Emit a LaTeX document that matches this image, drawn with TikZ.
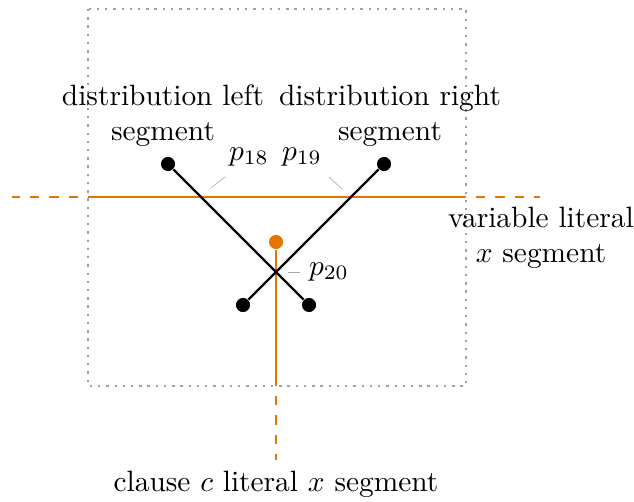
\documentclass[tikz,border=0pt]{standalone}
\usepackage{tikz}
\usetikzlibrary{positioning}

\definecolor{litorange}{RGB}{228,118,0}

\begin{document}
\begin{tikzpicture}[
	x=0.34pt,
	y=-0.34pt,
	dot/.style={circle, fill=#1, inner sep=0pt, minimum size=4.8pt},
	seg/.style={thick, draw=#1},
	ext/.style={thick, draw=litorange, dash pattern=on 3.2pt off 3.4pt, dash phase=3.2pt},
	frame/.style={thick, draw=gray!75, dotted},
	tick/.style={draw=gray!70, very thin},
	capt/.style={align=center, inner sep=0pt}
]

\useasboundingbox (0,0) rectangle (634,501);

% gadget box
\draw[frame] (88,9) rectangle (466,386);

% literal segments
\coordinate (hl) at (12,197);
\coordinate (hbl) at (88,197);
\coordinate (hbr) at (466,197);
\coordinate (hr) at (540,197);
\coordinate (vb) at (276,386);
\coordinate (ve) at (276,460);

\draw[ext] (hbl) -- (hl);
\draw[seg=litorange] (hbl) -- (hbr);
\draw[ext] (hbr) -- (hr);

\node[dot=litorange] (cl) at (276,242) {};
\draw[seg=litorange] (cl) -- (vb);
\draw[ext] (vb) -- (ve);

% distribution segments
\node[dot=black] (la) at (168,164) {};
\node[dot=black] (lb) at (309,305) {};
\node[dot=black] (ra) at (384,164) {};
\node[dot=black] (rb) at (243,305) {};

\draw[seg=black] (la) -- (lb);
\draw[seg=black] (ra) -- (rb);

% point labels
\node (p18) at (249,157) {$p_{18}$};
\node (p19) at (302,157) {$p_{19}$};
\node (p20) at (329,272) {$p_{20}$};

\coordinate (t18a) at (211,188);
\coordinate (t18b) at (225,177);
\coordinate (t19a) at (329,177);
\coordinate (t19b) at (342,189);
\coordinate (t20a) at (288,272);
\coordinate (t20b) at (300,272);

\draw[tick] (t18a) -- (t18b);
\draw[tick] (t19a) -- (t19b);
\draw[tick] (t20a) -- (t20b);

% captions
\node[capt] (dl) at (163,116) {distribution left\\segment};
\node[capt] (dr) at (390,116) {distribution right\\segment};
\node[capt] (vl) at (541,238) {variable literal\\$x$ segment};
\node[capt] (cc) at (276,484) {clause $c$ literal $x$ segment};

\end{tikzpicture}
\end{document}
